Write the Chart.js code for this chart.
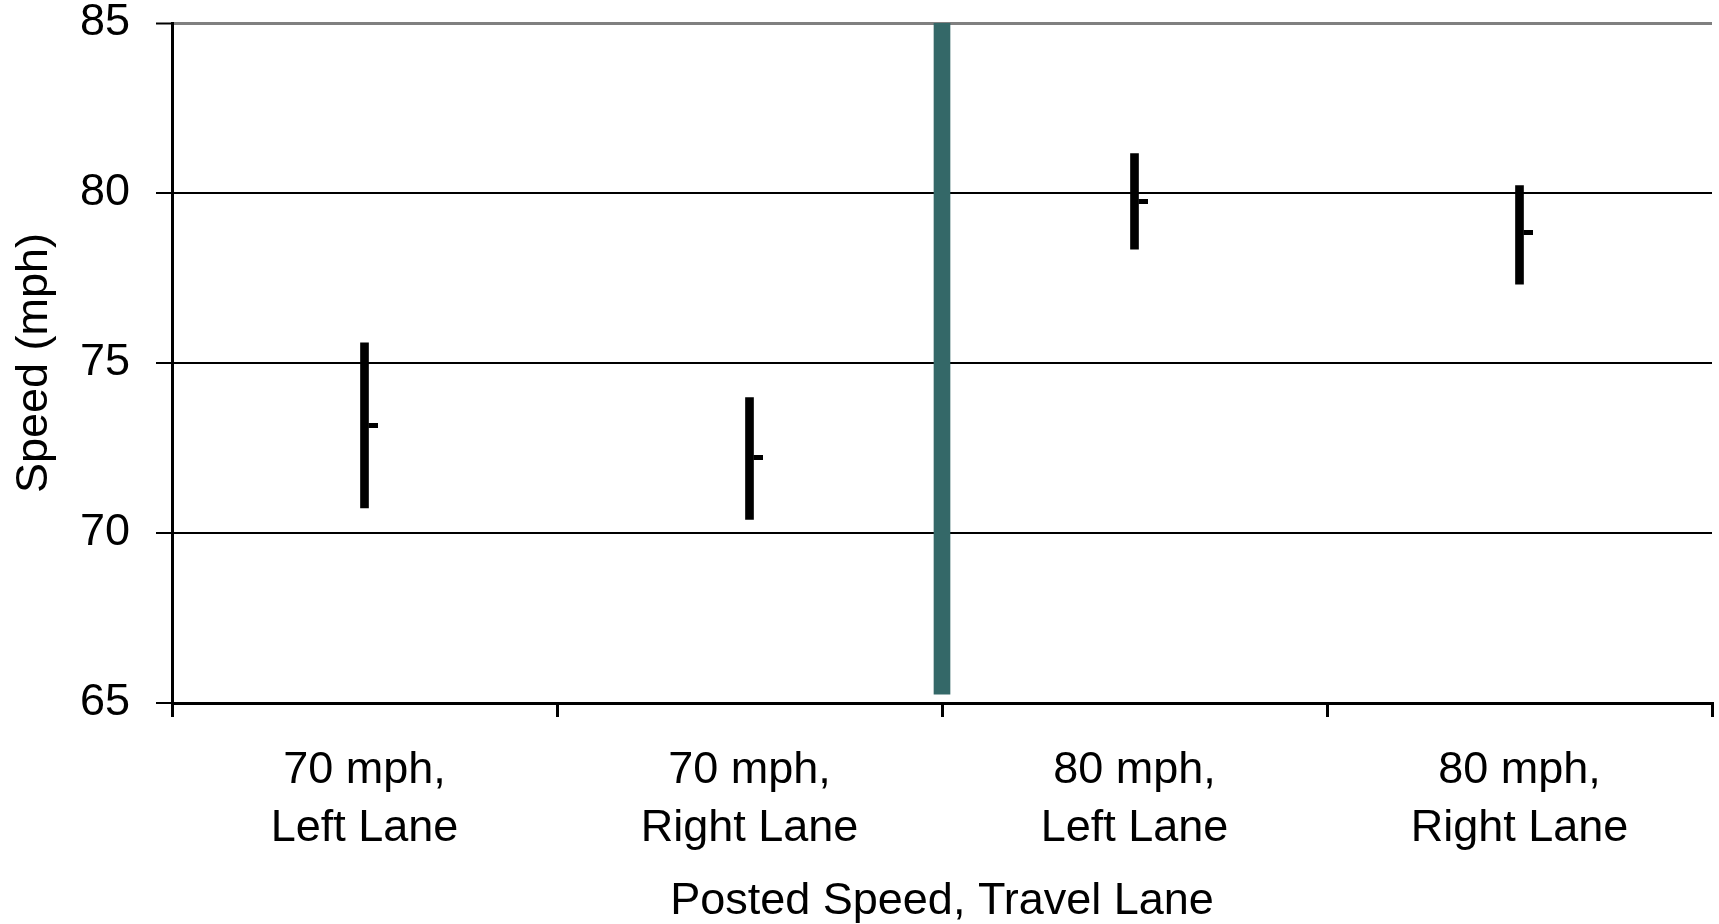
<!DOCTYPE html>
<html>
<head>
<meta charset="utf-8">
<script src="https://cdn.jsdelivr.net/npm/chart.js@4.4.0/dist/chart.umd.min.js"></script>
<style>
  html, body { margin: 0; padding: 0; background: #fff; }
  #wrap { width: 1719px; height: 924px; }
</style>
</head>
<body>
<div id="wrap"><canvas id="speedChart"></canvas></div>
<script>
// Categories (two-line labels)
const categories = [
    ['70 mph,', 'Left Lane'],
    ['70 mph,', 'Right Lane'],
    ['80 mph,', 'Left Lane'],
    ['80 mph,', 'Right Lane']
];
// Speed range per category (mph)
const rangeLow = [70.74, 70.40, 78.35, 77.32];
const rangeHigh = [75.59, 73.98, 81.16, 80.22];
const meanSpeed = [73.17, 72.23, 79.76, 78.83];
// Separator between the 70 mph and 80 mph groups
const separatorRange = [65.26, 85];
const yTicks = [65, 70, 75, 80, 85];

Chart.defaults.font.family = "'Liberation Sans', Arial, sans-serif";
Chart.defaults.font.size = 45;
Chart.defaults.color = '#000';

// Mean marker: short horizontal tick sticking out to the right of the range bar
function makeMeanMarker() {
    const c = document.createElement('canvas');
    c.width = 26;
    c.height = 5;
    const g = c.getContext('2d');
    g.fillStyle = '#000';
    g.fillRect(17, 0, 9, 5);
    return c;
}

const centers = categories.map((_, i) => i + 0.5);

const ctx = document.getElementById('speedChart').getContext('2d');
new Chart(ctx, {
    type: 'bar',
    data: {
        labels: categories,
        datasets: [
            {
                label: 'Range',
                xAxisID: 'xl',
                data: centers.map((x, i) => ({ x: x, y: [rangeLow[i], rangeHigh[i]] })),
                backgroundColor: '#000',
                barThickness: 8,
                grouped: false,
                order: 2
            },
            {
                label: 'Separator',
                xAxisID: 'xl',
                data: [{ x: categories.length / 2, y: separatorRange }],
                backgroundColor: '#346868',
                barThickness: 16,
                grouped: false,
                order: 3
            },
            {
                type: 'scatter',
                label: 'Mean',
                xAxisID: 'xl',
                data: centers.map((x, i) => ({ x: x, y: meanSpeed[i] })),
                pointStyle: makeMeanMarker(),
                showLine: false,
                order: 1
            }
        ]
    },
    options: {
        responsive: true,
        maintainAspectRatio: false,
        animation: false,
        layout: { padding: { top: 0, right: 7, bottom: 0, left: 0 } },
        plugins: {
            legend: { display: false },
            tooltip: { enabled: false }
        },
        scales: {
            x: {
                type: 'category',
                offset: true,
                grid: {
                    offset: true,
                    color: c => c.index === categories.length ? '#808080' : 'rgba(0,0,0,0)',
                    lineWidth: 3,
                    tickColor: '#000',
                    tickWidth: 3,
                    tickLength: 14
                },
                border: { color: '#000', width: 3 },
                ticks: {
                    padding: 25,
                    maxRotation: 0,
                    autoSkip: false,
                    font: { size: 45, lineHeight: 1.29 }
                },
                title: {
                    display: true,
                    text: 'Posted Speed, Travel Lane',
                    font: { size: 45, lineHeight: 1 },
                    padding: { top: 0, bottom: 0 }
                },
                afterFit: s => { s.height = 221; }
            },
            xl: {
                type: 'linear',
                display: false,
                min: 0,
                max: categories.length,
                offset: false
            },
            y: {
                min: 65,
                max: 85,
                afterBuildTicks: s => { s.ticks = yTicks.map(v => ({ value: v })); },
                grid: {
                    color: c => c.tick && c.tick.value === 85 ? '#808080' : '#000',
                    lineWidth: c => c.tick && c.tick.value === 85 ? 3 : 2,
                    tickColor: '#000',
                    tickWidth: 2,
                    tickLength: 16
                },
                border: { color: '#000', width: 3 },
                ticks: {
                    padding: 26,
                    font: { size: 45, lineHeight: 1 }
                },
                title: {
                    display: true,
                    text: 'Speed (mph)',
                    font: { size: 45, lineHeight: 1.2 },
                    padding: { top: 8, bottom: 0 }
                },
                afterFit: s => {
                    s.width = 172;
                    s.paddingTop = 23;
                    s.paddingBottom = 0;
                }
            }
        }
    }
});
</script>
</body>
</html>
